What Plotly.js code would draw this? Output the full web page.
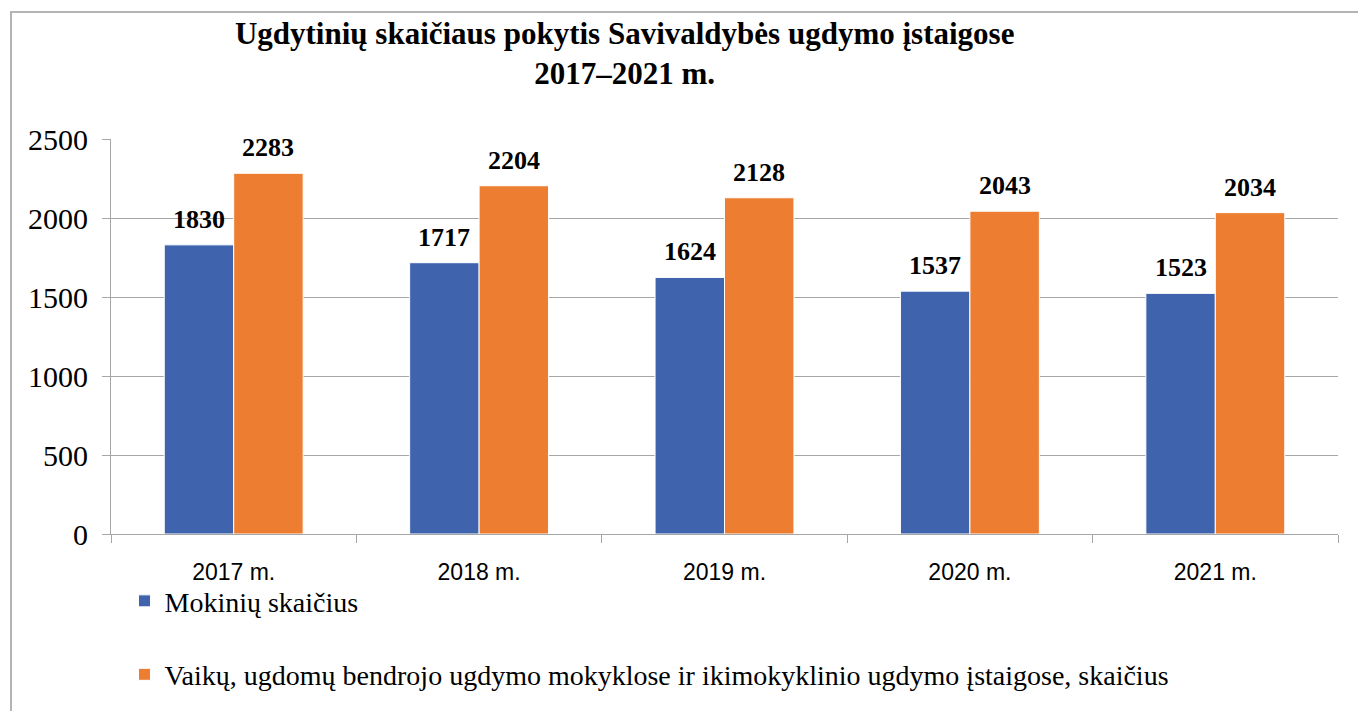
<!DOCTYPE html>
<html>
<head>
<meta charset="utf-8">
<script src="https://cdn.plot.ly/plotly-3.0.1.min.js"></script>
<style>
html,body{margin:0;padding:0;background:#fff;}
#frame{position:absolute;left:10px;top:11px;width:1400px;height:760px;border-left:2px solid #b4b4b4;border-top:2px solid #b4b4b4;pointer-events:none;z-index:5;}
#chart{width:1358px;height:711px;}
</style>
</head>
<body>
<div id="frame"></div>
<div id="chart"></div>
<script>
const categories = ["2017 m.", "2018 m.", "2019 m.", "2020 m.", "2021 m."];
const seriesNames = ["Mokinių skaičius", "Vaikų, ugdomų bendrojo ugdymo mokyklose ir ikimokyklinio ugdymo įstaigose, skaičius"];
const mokiniai = [1830, 1717, 1624, 1537, 1523];
const vaikai = [2283, 2204, 2128, 2043, 2034];
const yTicks = [0, 500, 1000, 1500, 2000, 2500];

const SERIF = "Liberation Serif";
const SANS = "Liberation Sans";
const blue = "#3F64AD";
const orange = "#ED7D31";
const grid = "#a6a6a6";
const bargap = 0.434;
const barW = (1 - bargap) / 2;

const traces = [
  {type: "bar", name: seriesNames[0], x: categories, y: mokiniai,
   marker: {color: blue, line: {color: "#ffffff", width: 1}}, legend: "legend", hoverinfo: "y"},
  {type: "bar", name: seriesNames[1], x: categories, y: vaikai,
   marker: {color: orange, line: {color: "#ffffff", width: 1}}, legend: "legend2", hoverinfo: "y"}
];

const annotations = [];
[mokiniai, vaikai].forEach((vals, s) => {
  vals.forEach((v, i) => {
    annotations.push({
      x: i + (s === 0 ? -barW / 2 : barW / 2), y: v, xref: "x", yref: "y",
      text: "<b>" + v + "</b>", showarrow: false, yanchor: "bottom", yshift: 9,
      font: {family: SERIF, size: 26, color: "#000"}
    });
  });
});

const layout = {
  width: 1358, height: 711,
  font: {family: SERIF, color: "#000"},
  margin: {l: 111, r: 20, t: 139, b: 174},
  paper_bgcolor: "#fff", plot_bgcolor: "#fff",
  title: {
    text: "<b>Ugdytinių skaičiaus pokytis Savivaldybės ugdymo įstaigose<br>2017–2021 m.</b>",
    x: 0.46, xanchor: "center", xref: "container", yref: "container", y: 0.938, yanchor: "middle",
    font: {family: SERIF, size: 31, color: "#000", weight: "bold"}
  },
  barmode: "group", bargap: bargap, bargroupgap: 0,
  xaxis: {
    type: "category", categoryarray: categories,
    tickson: "boundaries", ticks: "outside", ticklen: 8, tickcolor: grid, tickwidth: 1,
    showline: true, linecolor: grid, linewidth: 1,
    tickfont: {family: SANS, size: 23, color: "#000"},
    ticklabelstandoff: 17,
    showgrid: false, fixedrange: true
  },
  yaxis: {
    range: [0, 2500], tickvals: yTicks, ticktext: yTicks.map(String),
    ticks: "outside", ticklen: 8, tickcolor: grid,
    showgrid: true, gridcolor: grid, gridwidth: 1,
    showline: true, linecolor: grid, linewidth: 1,
    zeroline: false,
    tickfont: {family: SERIF, size: 30, color: "#000"},
    ticklabelstandoff: 8,
    fixedrange: true
  },
  legend: {
    x: 0.011, y: -0.17, xanchor: "left", yanchor: "middle",
    font: {family: SERIF, size: 28, color: "#000"},
    bgcolor: "rgba(0,0,0,0)"
  },
  legend2: {
    x: 0.011, y: -0.356, xanchor: "left", yanchor: "middle",
    font: {family: SERIF, size: 28, color: "#000"},
    bgcolor: "rgba(0,0,0,0)"
  },
  showlegend: true,
  annotations: annotations
};

Plotly.newPlot("chart", traces, layout, {displayModeBar: false, staticPlot: true});
</script>
</body>
</html>
